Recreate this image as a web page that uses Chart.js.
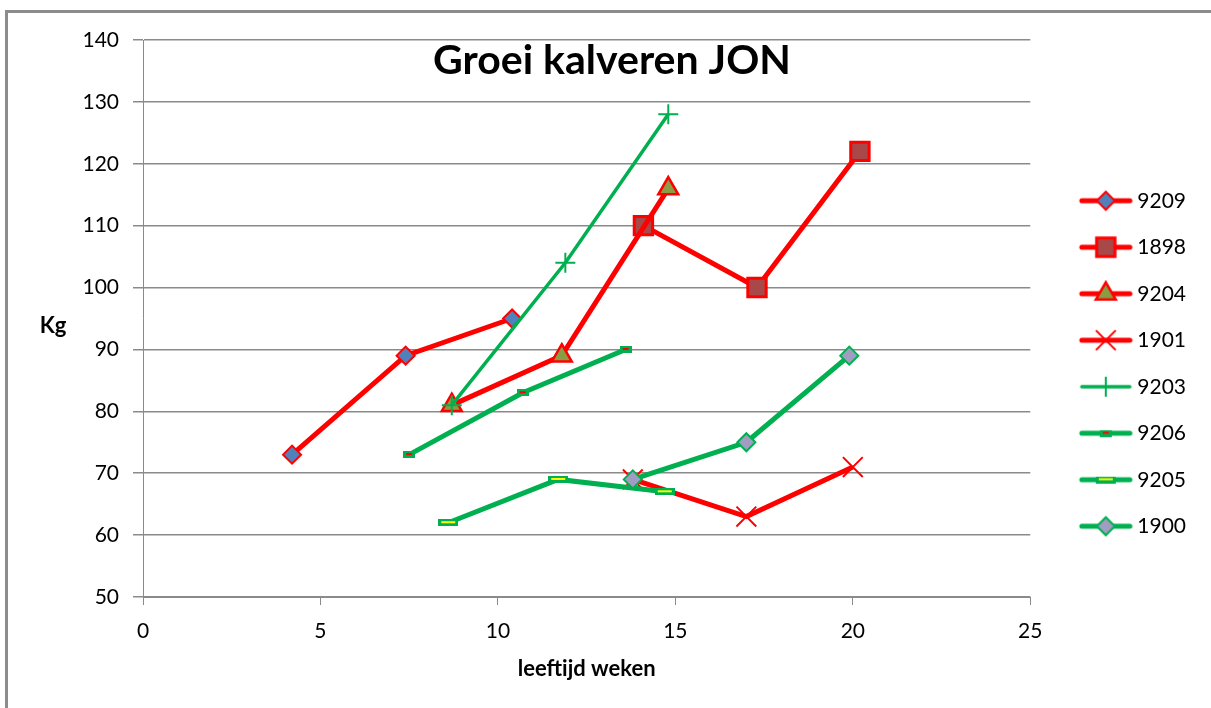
<!DOCTYPE html>
<html>
<head>
<meta charset="utf-8">
<title>Groei kalveren JON</title>
<script src="https://cdn.jsdelivr.net/npm/chart.js@4.4.1/dist/chart.umd.min.js"></script>
<style>
    html, body { margin: 0; padding: 0; background: #fff; }
    #wrap { width: 1211px; height: 708px; }
</style>
</head>
<body>
<div id="wrap"><canvas id="groeiChart" width="1211" height="708"></canvas></div>
<script>
// leeftijd (weken) en gewicht (kg) per kalf
const weeks9209 = [4.2, 7.4, 10.4];
const kg9209 = [73, 89, 95];
const weeks1898 = [14.1, 17.3, 20.2];
const kg1898 = [110, 100, 122];
const weeks9204 = [8.7, 11.8, 14.8];
const kg9204 = [81, 89, 116];
const weeks1901 = [13.8, 17.0, 20.0];
const kg1901 = [69, 63, 71];
const weeks9203 = [8.7, 11.9, 14.8];
const kg9203 = [81, 104, 128];
const weeks9206 = [7.5, 10.7, 13.6];
const kg9206 = [73, 83, 90];
const weeks9205 = [8.6, 11.7, 14.7];
const kg9205 = [62, 69, 67];
const weeks1900 = [13.8, 17.0, 19.9];
const kg1900 = [69, 75, 89];

const xTicks = [0, 5, 10, 15, 20, 25];
const yTicks = [50, 60, 70, 80, 90, 100, 110, 120, 130, 140];

const RED = '#ff0000';
const GREEN = '#00b050';
const GRID = '#8a8a8a';
const FONT = 'Lato';

function toPoints(xs, ys) {
    return xs.map((x, i) => ({ x: x, y: ys[i] }));
}

// Excel "dash" marker: small bordered bar
function dashMarker(w, h, border, fill) {
    const c = document.createElement('canvas');
    c.width = w;
    c.height = h;
    const ctx = c.getContext('2d');
    ctx.fillStyle = border;
    ctx.fillRect(0, 0, w, h);
    ctx.fillStyle = fill;
    ctx.fillRect(3, Math.floor(h / 2) - 1, w - 6, 2);
    return c;
}

const dash9206 = dashMarker(12, 7, GREEN, RED);
const dash9205 = dashMarker(20, 7, GREEN, '#ffff00');

function series(label, xs, ys, color, width, style, radius, fill, border, bw) {
    return {
        label: label,
        data: toPoints(xs, ys),
        borderColor: color,
        borderWidth: width,
        pointStyle: style,
        pointRadius: radius,
        pointHoverRadius: radius,
        pointBackgroundColor: fill,
        pointBorderColor: border,
        pointBorderWidth: bw,
        tension: 0,
        fill: false
    };
}

const datasets = [
    series('9209', weeks9209, kg9209, RED, 5, 'rectRot', 9, '#4f81bd', RED, 2),
    series('1898', weeks1898, kg1898, RED, 5, 'rect', 13, '#a84848', RED, 3),
    series('9204', weeks9204, kg9204, RED, 5, 'triangle', 11.5, '#8c9c43', RED, 2.5),
    series('1901', weeks1901, kg1901, RED, 5, 'crossRot', 14, RED, RED, 2),
    series('9203', weeks9203, kg9203, GREEN, 3.5, 'cross', 10, GREEN, GREEN, 2),
    series('9206', weeks9206, kg9206, GREEN, 5, dash9206, 6, GREEN, GREEN, 0),
    series('9205', weeks9205, kg9205, GREEN, 5, dash9205, 10, GREEN, GREEN, 0),
    series('1900', weeks1900, kg1900, GREEN, 5, 'rectRot', 9, '#a19cc2', GREEN, 2)
];
// Excel draws later series on top
datasets.forEach((ds, i) => { ds.order = datasets.length - i; });

// legend sample: line with marker, shifted right inside the icon
const ICON_W = 83;
const ICON_SHIFT = 14.5;
function legendIcon(ds) {
    const c = document.createElement('canvas');
    c.width = ICON_W;
    c.height = 28;
    const ctx = c.getContext('2d');
    const cx = ICON_W / 2 + ICON_SHIFT;
    const cy = 14;
    ctx.strokeStyle = ds.borderColor;
    ctx.lineWidth = ds.borderWidth;
    ctx.lineCap = 'round';
    ctx.beginPath();
    ctx.moveTo(cx - 24, cy);
    ctx.lineTo(cx + 24, cy);
    ctx.stroke();
    ctx.lineCap = 'butt';
    ctx.fillStyle = ds.pointBackgroundColor;
    ctx.strokeStyle = ds.pointBorderColor;
    ctx.lineWidth = ds.pointBorderWidth;
    Chart.helpers.drawPoint(ctx, {
        pointStyle: ds.pointStyle,
        radius: ds.pointRadius,
        rotation: 0,
        borderWidth: ds.pointBorderWidth
    }, cx, cy);
    return c;
}
const legendIcons = datasets.map(legendIcon);

const decor = {
    id: 'decor',
    beforeDraw(chart) {
        const ctx = chart.ctx;
        ctx.save();
        ctx.fillStyle = '#fff';
        ctx.fillRect(0, 0, chart.width, chart.height);
        ctx.strokeStyle = '#8c8c8c';
        ctx.lineWidth = 3;
        ctx.beginPath();
        ctx.moveTo(6.5, chart.height + 5);
        ctx.lineTo(6.5, 11.5);
        ctx.lineTo(chart.width + 5, 11.5);
        ctx.stroke();
        ctx.restore();
    },
    afterDraw(chart) {
        const ctx = chart.ctx;
        ctx.save();
        ctx.fillStyle = '#000';
        ctx.textAlign = 'center';
        ctx.textBaseline = 'middle';
        ctx.font = 'bold 41px ' + FONT;
        ctx.fillText('Groei kalveren JON', 612, 61);
        ctx.font = 'bold 22px ' + FONT;
        ctx.fillText('Kg', 53, 326);
        ctx.restore();
    }
};

new Chart(document.getElementById('groeiChart'), {
    type: 'line',
    data: { datasets: datasets },
    plugins: [decor],
    options: {
        responsive: false,
        animation: false,
        layout: { padding: { top: 40, left: 0, right: 15, bottom: 21 } },
        plugins: {
            title: { display: false },
            tooltip: { enabled: false },
            legend: {
                position: 'right',
                labels: {
                    usePointStyle: true,
                    pointStyleWidth: 71,
                    padding: 25.5,
                    color: '#000',
                    font: { family: FONT, size: 21 },
                    generateLabels(chart) {
                        return chart.data.datasets.map((ds, i) => ({
                            text: ds.label,
                            pointStyle: legendIcons[i],
                            fillStyle: ds.borderColor,
                            strokeStyle: ds.borderColor,
                            lineWidth: 0,
                            hidden: false,
                            datasetIndex: i
                        }));
                    }
                }
            }
        },
        scales: {
            x: {
                type: 'linear',
                min: 0,
                max: 25,
                afterBuildTicks(scale) { scale.ticks = xTicks.map(v => ({ value: v })); },
                afterFit(scale) { scale.height = 90; },
                grid: { drawOnChartArea: false, drawTicks: true, tickLength: 8, color: GRID, lineWidth: 1 },
                border: { color: GRID, width: 1 },
                ticks: { color: '#000', padding: 14, maxRotation: 0, font: { family: FONT, size: 21 } },
                title: {
                    display: true,
                    text: 'leeftijd weken',
                    color: '#000',
                    padding: { top: 0, bottom: 5 },
                    font: { family: FONT, size: 22, weight: 'bold' }
                }
            },
            y: {
                min: 50,
                max: 140,
                afterBuildTicks(scale) { scale.ticks = yTicks.map(v => ({ value: v })); },
                afterFit(scale) { scale.width = 143; },
                grid: { color: GRID, lineWidth: 1.5, tickLength: 10 },
                border: { color: GRID, width: 1 },
                ticks: { color: '#000', padding: 14, font: { family: FONT, size: 21 } }
            }
        }
    }
});
</script>
</body>
</html>
